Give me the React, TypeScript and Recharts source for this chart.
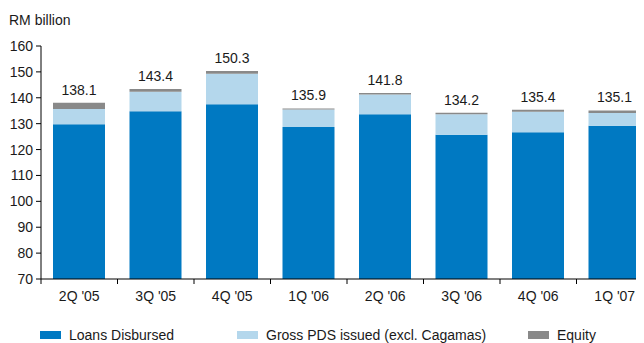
import { Bar, BarChart, LabelList, Legend, XAxis, YAxis, Label } from "recharts";

const quarters = ["2Q '05", "3Q '05", "4Q '05", "1Q '06", "2Q '06", "3Q '06", "4Q '06", "1Q '07"];
const loansDisbursed = [129.8, 134.8, 137.5, 128.7, 133.6, 125.7, 126.7, 129.2];
const grossPds = [5.9, 7.5, 11.8, 6.8, 7.7, 7.9, 7.9, 4.9];
const equity = [2.4, 1.1, 1.0, 0.4, 0.5, 0.6, 0.8, 1.0];
const totals = [138.1, 143.4, 150.3, 135.9, 141.8, 134.2, 135.4, 135.1];
const yTicks = [70, 80, 90, 100, 110, 120, 130, 140, 150, 160];
const seriesNames = ["Loans Disbursed", "Gross PDS issued (excl. Cagamas)", "Equity"];

const data = quarters.map((q, i) => ({
  quarter: q,
  loans: loansDisbursed[i],
  pds: grossPds[i],
  equity: equity[i],
  total: totals[i],
}));

const FONT = "'Liberation Sans', Arial, sans-serif";
const TEXT = "#1a1a1a";
const SERIES_COLORS = ["#0079C2", "#B4D7EC", "#898989"];

function QuarterTick(props: any) {
  const { x, y, payload, index } = props;
  const off = payload?.offset ?? 38.25;
  return (
    <g>
      <line x1={x - off} y1={y} x2={x - off} y2={y + 5} stroke="#000" />
      {index === quarters.length - 1 && (
        <line x1={x + off} y1={y} x2={x + off} y2={y + 5} stroke="#000" />
      )}
      <text x={x} y={y + 22} textAnchor="middle" fontSize={14} fontFamily={FONT} fill={TEXT}>
        {payload.value}
      </text>
    </g>
  );
}

// legend keeps the reference's left-to-right order
function LegendContent() {
  const widths = [197, 291, 120];
  return (
    <div style={{ display: "flex", paddingLeft: 32, height: 16, alignItems: "center" }}>
      {seriesNames.map((name, i) => (
        <div key={name} style={{ width: widths[i], flex: "none", display: "flex", alignItems: "center" }}>
          <span style={{ width: 21, height: 8, background: SERIES_COLORS[i], marginRight: 8, flex: "none" }} />
          <span style={{ fontSize: 14, fontFamily: FONT, color: TEXT, whiteSpace: "nowrap" }}>{name}</span>
        </div>
      ))}
    </div>
  );
}

export default function App() {
  return (
    <div style={{ width: 636, height: 335, overflow: "hidden" }}>
      <BarChart
        width={660}
        height={335}
        data={data}
        margin={{ top: 38, right: 15, bottom: 0, left: 0 }}
        barSize={52}
      >
        <XAxis
          dataKey="quarter"
          axisLine={{ stroke: "#000" }}
          tickLine={false}
          tickSize={0}
          tickMargin={0}
          height={48}
          interval={0}
          tick={<QuarterTick />}
        />
        <YAxis
          width={33}
          domain={[70, 160]}
          ticks={yTicks}
          allowDataOverflow
          axisLine={{ stroke: "#000" }}
          tickLine={{ stroke: "#000" }}
          tickSize={5}
          tickMargin={3}
          tick={{ fontSize: 14, fontFamily: FONT, fill: TEXT }}
        >
          <Label
            content={(p: any) => (
              <text x={1} y={p.viewBox.y - 21} fontSize={14} fontFamily={FONT} fill={TEXT}>
                RM billion
              </text>
            )}
          />
        </YAxis>
        <Legend
          verticalAlign="bottom"
          align="left"
          wrapperStyle={{ left: 0, bottom: 0, width: 660 }}
          content={<LegendContent />}
        />
        <Bar dataKey="loans" name={seriesNames[0]} stackId="a" fill={SERIES_COLORS[0]} isAnimationActive={false} />
        <Bar dataKey="pds" name={seriesNames[1]} stackId="a" fill={SERIES_COLORS[1]} isAnimationActive={false} />
        <Bar dataKey="equity" name={seriesNames[2]} stackId="a" fill={SERIES_COLORS[2]} isAnimationActive={false}>
          <LabelList
            dataKey="total"
            position="top"
            offset={8}
            fontSize={14}
            fontFamily={FONT}
            fill={TEXT}
            formatter={(v: any) => Number(v).toFixed(1)}
          />
        </Bar>
      </BarChart>
    </div>
  );
}
